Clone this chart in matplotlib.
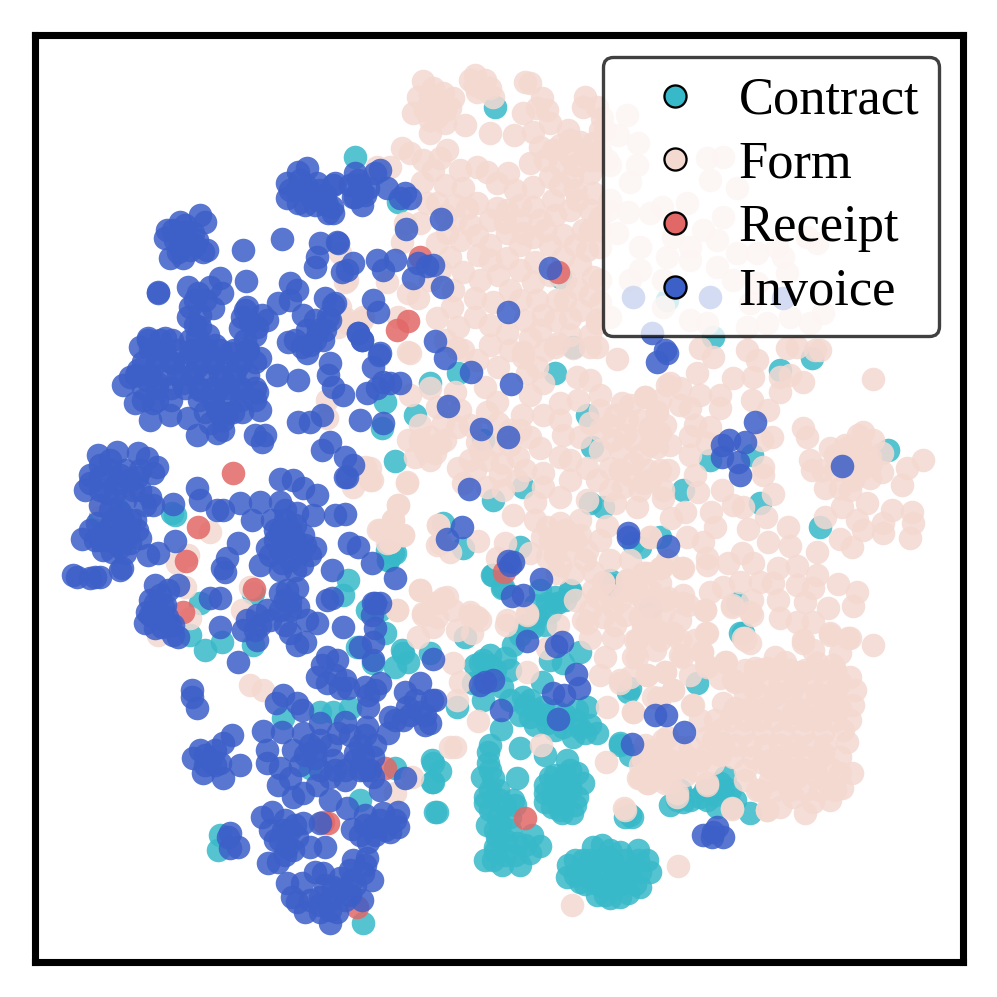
import numpy as np
import matplotlib
matplotlib.use("Agg")
import matplotlib.pyplot as plt
from matplotlib.lines import Line2D

plt.rcParams['font.family'] = ['Liberation Serif', 'DejaVu Serif']

labels = ["Contract", "Form", "Receipt", "Invoice"]
colors = ["#38b9c9", "#f4d9d1", "#e26868", "#3c5fc8"]

# t-SNE embedding, values
contract = [(355,157),(495,107),(398,202),(560,277),(100,517),(172,513),(175,515),(117,508),(387,550),(395,553),(388,560),
(348,580),(343,595),(367,610),(385,633),(357,647),(190,635),(205,650),(222,642),(253,645),(200,603),(253,593),(373,663),
(403,653),(395,667),(408,662),(402,650),(430,653),(283,718),(320,712),(333,712),(350,708),(310,768),(360,800),(395,768),
(432,760),(433,782),(437,812),(220,835),(218,850),(363,923),(380,610),(385,402),(382,428),(430,383),(458,373),(395,461),
(415,415),(493,500),(523,487),(483,440),(587,415),(592,447),(590,503),(603,507),(443,523),(463,548),(393,553),(388,560),
(492,575),(503,587),(520,547),(570,590),(610,580),(633,543),(573,347),(555,373),(650,607),(493,575),(502,588),(547,603),
(557,603),(537,617),(570,592),(533,627),(513,645),(505,658),(483,660),(480,663),(550,660),(563,663),(580,652),(502,687),
(473,683),(483,700),(457,707),(465,637),(542,682),(523,697),(520,715),(530,717),(543,707),(547,723),(563,727),(577,710),
(587,707),(597,733),(573,737),(501,729),(520,748),(545,755),(567,760),(628,692),(612,585),(620,743),(630,755),(630,815),
(625,817),(697,683),(743,633),(488,752),(488,763),(482,777),(493,778),(517,778),(485,797),(485,803),(500,800),(513,800),
(498,817),(510,817),(497,837),(495,847),(493,860),(502,865),(520,865),(530,853),(540,846),(532,835),(517,843),(435,812),
(440,771),(433,763),(432,782),(550,777),(545,793),(545,802),(563,787),(577,773),(583,783),(577,797),(572,813),(562,813),
(552,807),(563,800),(568,865),(567,877),(580,882),(593,847),(602,845),(620,852),(638,850),(647,860),(640,887),(620,897),
(597,895),(610,898),(610,877),(590,867),(630,870),(607,857),(583,860),(623,880),(600,885),(630,688),(670,805),(683,802),
(700,797),(717,807),(723,790),(725,777),(750,813),(632,817),(620,745),(732,807),(720,783),(677,800),(707,800),(683,490),
(710,460),(752,455),(760,503),(820,527),(888,450),(812,358),(780,370),(640,547),(660,537),(737,603),(740,633),(667,300),
(713,337),
(575,860),(590,860),(600,860),(612,860),(625,860),(638,860),(578,872),(602,872),(615,872),(628,872),(640,872),(585,884),
(598,884),(610,884),(622,884),(635,884),(605,895),(628,893),(490,745),(490,770),(490,790),(498,790),(505,805),(515,805),
(490,810),(487,825),(500,825),(510,830),(495,830),(505,840),(505,855),(515,855),(495,852),(525,845),(485,860),(555,775),
(565,775),(555,785),(570,785),(552,795),(560,795),(570,790),(575,805),(560,810),(545,785),(570,770),(540,590),(550,612),
(545,625),(565,600),(535,605),(555,597),(530,700),(535,710),(545,715),(555,710),(565,715),(575,720),(590,725),(580,728),
(555,730),(535,725),(525,705),(490,665),(490,655),(475,665),(510,700),(585,733),(680,790),(690,800),(705,790),(715,795),
(730,790),(735,800),(610,850),(650,872),(590,878),(575,875),(525,625),(520,635),(510,670),(495,670)]

form = [(423,81),(433,88),(418,97),(443,93),(453,98),(413,113),(430,103),(445,123),(430,133),(437,117),(465,125),(475,75),
(470,80),(485,80),(477,92),(493,97),(490,133),(525,82),(530,83),(542,98),(523,113),(537,108),(547,110),(585,97),(583,107),
(602,118),(550,123),(568,130),(533,132),(514,135),(580,142),(593,143),(540,147),(553,150),(597,160),(570,157),(530,163),
(402,148),(410,153),(377,167),(390,167),(423,160),(447,150),(440,158),(433,170),(460,170),(422,182),(445,185),(463,188),
(477,167),(487,172),(497,183),(508,173),(533,187),(550,177),(572,177),(590,173),(553,200),(577,200),(593,193),(533,207),
(437,203),(405,223),(420,223),(402,242),(447,233),(437,243),(467,208),(477,203),(477,235),(497,208),(507,210),(507,233),
(523,233),(533,237),(478,255),(507,258),(498,275),(535,262),(563,235),(583,230),(600,217),(587,250),(600,247),(450,257),
(463,272),(563,257),(533,282),(510,290),(577,288),(593,277),(600,302),(475,298),(493,302),(537,300),(543,315),(557,300),
(570,318),(597,323),(475,317),(458,327),(437,318),(452,307),(453,290),(418,298),(408,293),(387,282),(408,352),(463,350),
(507,333),(530,338),(523,352),(558,343),(573,348),(597,347),(345,318),(338,327),(398,317),(347,280),(363,317),(427,203),
(410,353),(457,348),(477,360),(498,367),(523,357),(537,367),(527,373),(555,347),(590,347),(617,359),(577,377),(590,380),
(543,383),(485,387),(430,388),(455,392),(410,395),(497,402),(530,395),(578,400),(560,403),(487,412),(522,415),(543,415),
(600,410),(622,403),(645,397),(657,412),(627,420),(650,427),(670,383),(437,407),(457,427),(443,423),(430,437),(408,440),
(440,443),(415,457),(430,460),(435,453),(498,423),(477,442),(530,437),(540,448),(563,435),(580,437),(590,423),(613,440),
(633,440),(653,437),(560,457),(570,460),(587,468),(610,468),(633,463),(660,470),(458,468),(470,460),(487,460),(502,463),
(518,457),(463,483),(487,487),(503,490),(517,480),(543,473),(543,487),(535,502),(560,497),(570,480),(597,480),(587,500),
(623,487),(643,483),(663,490),(615,503),(637,507),(513,515),(407,483),(398,505),(393,520),(378,530),(403,535),(390,542),
(370,468),(372,480),(438,525),(440,543),(450,552),(478,541),(547,527),(580,520),(560,523),(542,537),(560,543),(587,551),
(607,526),(505,543),(497,558),(530,553),(547,557),(557,573),(573,573),(593,572),(627,580),(603,583),(597,597),(638,593),
(660,583),(667,560),(650,537),(647,573),(420,590),(443,598),(433,603),(453,610),(423,613),(470,612),(477,617),(397,610),
(527,613),(507,620),(583,620),(603,617),(873,379),(803,382),(780,392),(780,377),(790,375),(752,400),(768,410),(720,395),
(720,408),(690,408),(680,388),(667,385),(733,378),(753,377),(757,360),(747,350),(713,357),(697,373),(700,348),(787,348),
(815,350),(645,397),(657,412),(710,427),(690,436),(772,437),(707,443),(762,440),(650,430),(660,433),(657,447),(647,470),
(668,470),(695,475),(763,467),(763,475),(698,492),(722,490),(663,498),(773,494),(733,505),(743,507),(685,512),(711,512),
(766,517),(671,518),(715,527),(748,529),(788,527),(768,542),(703,542),(687,537),(650,537),(790,546),(707,558),(728,563),
(742,553),(753,563),(682,568),(662,567),(645,573),(778,568),(797,566),(817,552),(817,575),(740,582),(723,587),(710,592),
(760,582),(773,583),(797,585),(813,588),(838,584),(857,592),(853,606),(828,608),(805,602),(778,600),(752,600),(683,595),
(668,598),(653,600),(688,605),(705,610),(732,607),(752,615),(780,618),(797,622),(813,622),(830,633),(848,638),(873,645),
(803,640),(707,633),(745,638),(670,633),(643,623),(657,630),(803,428),(807,437),(810,460),(812,470),(830,448),(848,447),
(858,435),(863,432),(873,440),(882,453),(870,457),(857,457),(923,460),(907,468),(902,485),(882,472),(870,478),(853,480),
(840,488),(825,488),(842,507),(867,503),(892,510),(912,512),(913,523),(883,523),(883,533),(910,538),(857,520),(863,530),
(840,539),(852,547),(825,517),(850,638),(830,635),(840,653),(803,643),(813,650),(775,657),(755,668),(767,668),(785,662),
(800,672),(817,663),(833,665),(850,677),(853,705),(837,687),(817,693),(793,687),(777,693),(753,687),(733,680),(720,678),
(726,662),(706,665),(702,652),(706,633),(750,643),(743,638),(682,657),(665,672),(647,675),(633,657),(637,640),(653,633),
(672,633),(673,690),(658,698),(692,705),(633,712),(723,703),(733,713),(753,713),(773,710),(793,713),(813,717),(833,710),
(743,733),(763,733),(783,733),(803,733),(823,733),(847,742),(843,730),(723,743),(707,737),(707,753),(713,763),(733,757),
(753,757),(770,760),(793,753),(807,757),(823,753),(840,773),(852,773),(842,788),(828,783),(813,802),(805,813),(817,777),
(797,777),(783,780),(793,797),(780,807),(767,810),(757,790),(745,780),(745,770),(763,763),(732,808),(653,753),(667,737),
(680,747),(688,757),(653,760),(670,760),(683,767),(640,778),(648,783),(665,783),(677,793),(660,777),(707,785),(625,810),
(678,866),(653,697),(630,677),(620,680),(572,905),(606,762),(541,745),(527,672),(527,615),(506,625),(558,625),(547,648),
(478,721),(455,747),(450,747),(457,700),(453,663),(460,682),(447,597),(437,617),(470,615),(480,620),(472,633),(457,630),
(607,707),(633,712),(600,675),(620,683),(647,675),(605,657),(613,638),(590,638),(587,623),(593,590),(603,582),(627,580),
(638,595),(613,607),(643,573),(683,568),(660,568),(707,565),(625,615),(643,627),(650,617),(663,613),(673,633),(683,603),
(637,657),(665,672),(680,655),(702,652),(707,667),(725,662),(673,690),(660,698),(693,705),(732,605),(705,610),(750,612),
(745,640),(652,750),(663,740),(643,760),(673,763),(690,747),(638,778),(647,783),(670,782),(707,783),(677,797),(624,808),
(732,809),(767,810),(713,740),(407,482),(370,480),(353,487),(398,505),(393,520),(380,530),(403,535),(390,542),(420,590),
(423,615),(437,603),(438,525),(437,545),(397,610),(418,637),(433,627),(188,555),(177,563),(210,532),(185,587),(250,587),
(242,610),(190,618),(158,635),(250,685),(263,690),(412,777),(395,793),(100,507),(387,543),(340,253),(345,282),(340,307),
(347,323),(362,320),(327,400),(327,418),(365,467),
(745,670),(760,670),(775,670),(790,670),(805,670),(820,670),(835,670),(735,682),(750,682),(765,682),(780,682),(795,682),
(810,682),(825,682),(840,682),(745,695),(760,695),(775,695),(790,695),(805,695),(820,695),(835,695),(735,708),(750,708),
(765,708),(795,708),(810,708),(825,708),(840,708),(730,720),(745,720),(760,720),(775,720),(790,720),(805,720),(820,720),
(835,720),(735,745),(750,745),(765,745),(780,745),(795,745),(810,745),(825,745),(770,768),(785,768),(800,768),(815,768),
(830,768),(775,790),(790,790),(805,790),(820,790),(835,790),(645,745),(660,750),(655,770),(670,770),(685,775),(695,770),
(640,765),(700,760),(720,755),(430,95),(425,110),(440,105),(450,108),(430,120),(445,110),(475,85),(482,88),(490,88),
(560,145),(570,140),(585,155),(560,165),(575,165),(590,160),(545,160),(560,185),(575,190),(590,210),(570,210),(555,215),
(540,220),(520,220),(505,222),(490,220),(470,225),(455,220),(460,240),(490,245),(520,245),(550,245),(575,245),(590,230),
(565,280),(580,265),(565,300),(580,310),(590,295),(555,320),(570,335),(590,335),(540,330),(605,130),(618,135),(627,115),
(638,143),(637,165),(630,182),(600,150),(610,165),(610,200),(608,210),(628,212),(650,213),(662,207),(687,203),(707,158),
(723,157),(710,180),(737,188),(723,217),(703,230),(640,247),(673,237),(690,247),(717,240),(777,247),(807,237),(817,243),
(640,270),(667,257),(690,260),(717,267),(737,253),(757,253),(783,257),(787,273),(757,283),(733,280),(663,280),(630,280),
(600,280),(610,317),(663,307),(690,320),(707,323),(750,303),(747,327),(767,323),(790,317),(810,323),(823,313),(820,350),
(797,347),(597,320),(600,230),(617,233),(597,107),(600,130),(607,160),(615,415),(630,405),(640,420),(625,435),(610,425),
(650,445),(640,455),(620,450),(665,425),(670,445),(600,430),(600,450),(650,480),(630,475),(610,490),(480,450),(495,445),
(510,445),(475,470),(500,475),(525,470),(420,425),(445,440),(425,450),(420,440),(565,530),(580,535),(570,550),(585,560),
(575,540),(555,555),(600,540),(560,565),(610,595),(620,600),(625,590),(645,605),(615,625),(635,640),(655,650),(650,590),
(665,600),(680,620),(640,617),(840,460),(850,465),(860,470),(835,470),(845,445),(860,445),(870,465),(835,455),(822,470),
(850,490),(455,205),(445,215),(515,190),(520,205),(545,230),(490,260),(520,270),(550,275),(480,280),(520,300),(525,320),
(490,325),(510,350),(545,350),(440,270),(430,280),(445,340),(490,345),(460,410),(470,425),(510,430),(520,430),(560,420),
(600,395),(660,400),(680,405),(700,395),(695,425),(620,470),(640,490),(690,455),(535,520),(550,540),(575,600),(610,560),
(630,560),(590,610),(695,640),(680,640),(660,640),(690,675),(715,720),(720,730),(780,757),(795,770),(855,690),(850,720),
(700,720),(820,757),(840,757),(760,790),(830,800),(770,780)]

receipt = [(233,473),(198,527),(186,561),(254,589),(183,612),(385,768),(323,822),(328,823),(357,907),(420,257),(408,321),
(397,330),(558,272),(525,818),(504,572)]

invoice = [(287,183),(298,172),(307,168),(333,185),(287,198),(298,203),(307,187),(317,183),(327,205),(328,213),(318,200),
(297,190),(355,173),(362,193),(355,197),(362,205),(180,222),(200,215),(205,222),(165,238),(170,258),(183,258),(203,252),
(207,250),(173,230),(187,240),(193,233),(180,247),(167,230),(243,250),(282,239),(158,293),(158,292),(246,281),(188,287),
(220,278),(320,243),(338,243),(317,257),(315,267),(342,272),(347,270),(353,263),(290,283),(297,290),(325,298),(333,305),
(303,315),(328,317),(325,330),(323,340),(307,330),(288,342),(302,347),(307,353),(358,333),(362,340),(148,338),(165,338),
(140,347),(138,370),(130,377),(123,385),(135,403),(153,403),(150,420),(170,415),(188,418),(197,435),(217,433),(223,430),
(242,412),(260,410),(257,392),(277,375),(298,380),(255,435),(262,442),(265,435),(157,357),(147,380),(157,383),(173,363),
(190,353),(207,350),(197,367),(213,363),(230,353),(247,350),(260,358),(237,367),(223,380),(200,390),(217,390),(183,383),
(240,390),(217,410),(227,413),(210,423),(223,420),(198,293),(210,287),(222,293),(190,307),(188,317),(200,327),(197,337),
(213,308),(247,307),(242,317),(240,328),(257,327),(267,320),(278,303),(290,300),(330,363),(328,375),(333,387),(343,395),
(367,393),(373,367),(322,415),(310,422),(298,422),(360,420),(330,442),(322,450),(345,457),(353,465),(347,477),(90,483),
(100,477),(117,483),(133,490),(150,497),(153,505),(107,493),(137,477),(153,473),(100,505),(98,455),(117,452),(110,460),
(138,453),(147,458),(157,467),(90,475),(120,475),(140,470),(173,504),(197,488),(200,500),(217,510),(223,510),(113,520),
(103,533),(120,533),(137,530),(140,538),(103,550),(120,547),(130,543),(82,539),(97,523),(123,520),(175,541),(148,555),
(158,553),(122,568),(120,570),(73,575),(77,577),(90,578),(95,577),(100,577),(155,585),(168,590),(178,585),(155,603),
(147,612),(153,612),(145,623),(162,627),(167,617),(173,635),(178,637),(157,618),(163,607),(238,543),(227,558),(222,568),
(225,572),(210,598),(220,598),(220,627),(240,503),(260,502),(280,479),(293,480),(303,488),(317,495),(280,502),(252,520),
(272,520),(297,513),(313,515),(335,515),(345,514),(280,530),(303,535),(267,548),(280,550),(300,553),(315,548),(290,545),
(260,565),(282,563),(302,565),(290,560),(349,543),(358,547),(372,563),(332,570),(395,578),(345,477),(327,600),(332,598),
(287,590),(297,588),(280,593),(290,602),(298,607),(257,615),(267,610),(247,620),(257,640),(243,630),(285,625),(307,620),
(317,623),(297,645),(305,642),(290,633),(343,627),(360,647),(373,642),(375,628),(373,603),(372,615),(373,660),(238,662),
(327,657),(337,660),(317,677),(327,683),(340,688),(348,688),(365,687),(380,683),(368,695),(368,707),(405,692),(420,683),
(432,700),(407,707),(420,712),(390,717),(403,720),(425,725),(388,733),(367,727),(192,690),(192,697),(197,708),(276,703),
(283,695),(297,703),(302,710),(263,731),(282,732),(232,735),(223,743),(200,750),(193,758),(210,760),(220,763),(203,773),
(223,778),(240,765),(303,733),(320,723),(310,745),(293,750),(267,750),(267,763),(280,768),(290,778),(278,785),(315,758),
(333,760),(338,733),(345,722),(355,753),(363,755),(373,757),(360,770),(373,777),(380,790),(330,777),(317,785),(303,793),
(330,800),(347,808),(293,797),(405,778),(398,812),(383,813),(365,815),(398,827),(373,827),(352,829),(368,842),(390,832),
(320,823),(303,823),(325,847),(262,817),(272,812),(283,830),(297,837),(275,840),(287,847),(293,850),(310,847),(268,863),
(278,862),(230,833),(238,847),(230,848),(228,837),(353,860),(367,858),(363,873),(372,880),(315,872),(323,873),(340,878),
(287,883),(302,883),(292,897),(297,902),(305,912),(320,912),(337,912),(320,897),(333,887),(330,923),(362,900),(352,880),
(330,900),(358,180),(380,170),(375,173),(387,188),(368,188),(353,197),(405,193),(410,198),(400,198),(441,219),(406,229),
(337,242),(377,260),(383,270),(395,260),(413,278),(418,263),(427,266),(433,265),(442,287),(373,300),(378,312),(358,333),
(362,340),(379,355),(435,341),(445,358),(508,312),(550,268),(335,183),(332,207),(333,213),(335,303),(330,320),(380,353),
(471,372),(511,384),(383,382),(390,383),(400,383),(377,388),(383,423),(448,406),(481,429),(508,437),(469,489),(462,527),
(447,539),(508,561),(513,562),(541,579),(512,596),(523,595),(380,603),(375,603),(628,537),(628,533),(668,546),(657,362),
(667,353),(510,565),(527,641),(562,642),(556,646),(433,659),(493,680),(480,685),(485,682),(576,674),(553,693),(564,695),
(579,688),(501,710),(558,719),(435,700),(430,723),(632,744),(655,715),(666,715),(684,732),(703,835),(713,832),(723,837),
(712,837),(717,827),(755,422),(722,445),(729,440),(745,442),(722,457),(738,462),(740,475),(842,466),(633,297),(710,297),
(652,333),(665,350),(783,298),
(150,350),(164,350),(178,350),(192,350),(206,350),(220,350),(234,350),(248,350),(143,362),(157,362),(171,362),(185,362),
(199,362),(213,362),(227,362),(241,362),(255,362),(136,375),(150,375),(164,375),(178,375),(192,375),(206,375),(220,375),
(234,375),(248,375),(143,388),(157,388),(171,388),(185,388),(199,388),(213,388),(227,388),(241,388),(255,388),(143,400),
(157,400),(171,400),(199,400),(213,400),(227,400),(241,400),(255,400),(205,412),(219,412),(233,412),(148,340),(160,340),
(172,340),(195,300),(205,300),(200,315),(195,325),(208,335),(190,340),(215,345),(245,310),(250,322),(262,315),(255,335),
(245,340),(175,240),(185,225),(185,232),(195,245),(178,252),(190,250),(197,240),(300,180),(310,195),(320,190),(305,205),
(315,205),(290,190),(325,195),(360,185),(365,195),(350,185),(315,320),(318,330),(315,340),(310,345),(295,340),(100,465),
(110,470),(125,470),(100,490),(115,492),(130,480),(125,500),(140,490),(145,505),(85,490),(110,510),(110,527),(120,512),
(130,520),(108,540),(115,540),(128,535),(135,520),(100,540),(112,552),(125,553),(95,540),(90,530),(160,595),(150,615),
(160,615),(170,625),(155,628),(165,605),(150,600),(173,625),(285,510),(285,520),(290,530),(295,525),(275,540),(285,540),
(295,540),(305,545),(270,555),(280,570),(295,570),(310,555),(275,530),(290,610),(280,610),(270,620),(260,625),(255,630),
(285,600),(335,675),(322,665),(345,680),(375,690),(395,720),(410,715),(415,700),(425,715),(350,735),(360,745),(375,745),
(365,735),(330,745),(320,740),(305,755),(315,750),(300,765),(355,760),(365,770),(345,770),(335,770),(320,770),(345,780),
(370,770),(205,755),(215,765),(205,765),(215,750),(380,820),(385,830),(365,825),(395,820),(375,835),(360,835),(285,820),
(295,825),(280,840),(290,830),(270,830),(285,855),(325,885),(340,890),(350,870),(355,885),(345,900),(320,905),(330,910),
(310,900),(350,895),(365,865)]

series = [contract, form, receipt, invoice]

fig = plt.figure(figsize=(997 / 300, 997 / 300), dpi=300)
ax = fig.add_axes([34.5 / 997, 1 - 961.5 / 997, 928 / 997, 926 / 997])

for pts, c in zip(series, colors):
    pts = np.array(pts)
    ax.scatter(pts[:, 0], pts[:, 1], s=32, color=c, alpha=0.85, linewidths=0)

ax.set_xlim(34.5, 962.5)
ax.set_ylim(961.5, 35.5)
ax.set_xticks([])
ax.set_yticks([])
for sp in ax.spines.values():
    sp.set_linewidth(1.7)

handles = [Line2D([], [], ls="none", marker="o", ms=5.3, mfc=c, mec="black", mew=0.55) for c in colors]
leg = ax.legend(handles, labels, loc="upper right", fontsize=12.6, frameon=True, framealpha=0.75,
                edgecolor="black", borderaxespad=0.0, bbox_to_anchor=(0.9747, 0.9768),
                labelspacing=0.30, handletextpad=0.21, borderpad=0.38, handlelength=2.0)
leg.get_frame().set_linewidth(0.8)

fig.savefig("out.png", dpi=300)
